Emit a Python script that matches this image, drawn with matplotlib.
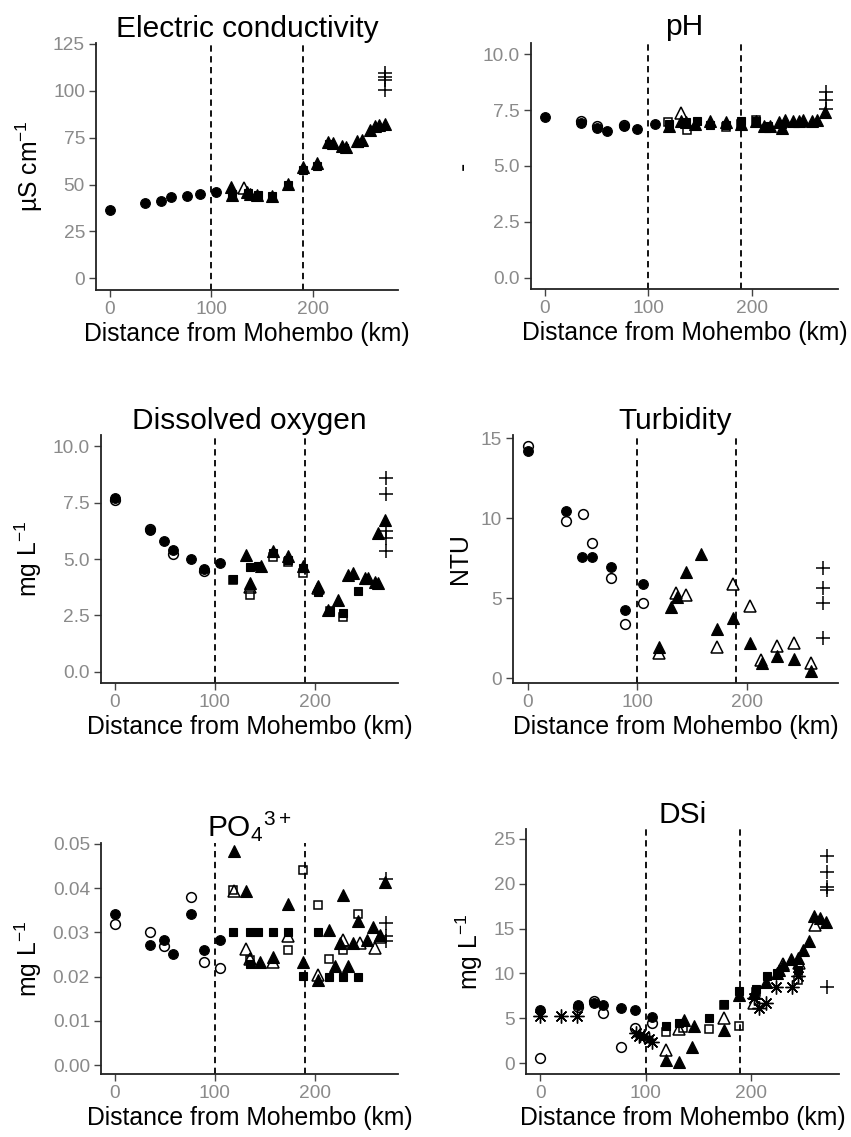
import numpy as np
import matplotlib
matplotlib.use("Agg")
import matplotlib.pyplot as plt

plt.rcParams['font.family'] = ['Liberation Sans', 'DejaVu Sans']
plt.rcParams['mathtext.fontset'] = 'custom'
plt.rcParams['mathtext.rm'] = 'Liberation Sans'
plt.rcParams['mathtext.it'] = 'Liberation Sans:italic'
plt.rcParams['mathtext.bf'] = 'Liberation Sans:bold'

# ---- Electric conductivity
ec_fc_x = [0, 35, 50, 60, 76, 89, 105]
ec_fc_y = [36.5, 40, 41, 43.3, 43.8, 44.7, 46]
ec_fs_x = [120, 136, 146, 160, 175, 190, 204, 216, 230, 245]
ec_fs_y = [45, 45.5, 44.5, 44, 50, 58, 60, 71.5, 69.5, 72]
ec_ft_x = [119, 120, 135, 138, 145, 160, 175, 190, 204, 215, 220, 228, 232, 243, 248, 256, 261, 265, 271]
ec_ft_y = [48.5, 44.5, 46, 45, 44.5, 44, 50.5, 59.5, 61.5, 72.5, 72, 70.5, 70, 73, 73.5, 79, 81, 82, 82.5]
ec_ot_x = [132]
ec_ot_y = [48]
ec_plus_x = [271, 271, 271, 271]
ec_plus_y = [100.5, 105.5, 107.5, 109.5]

# ---- pH
ph_fc_x = [0, 35, 50, 60, 76, 89, 106]
ph_fc_y = [7.2, 6.93, 6.71, 6.58, 6.8, 6.64, 6.9]
ph_oc_x = [35, 50, 76]
ph_oc_y = [7.02, 6.8, 6.85]
ph_fs_x = [120, 136, 147, 160, 175, 190, 204, 216, 229]
ph_fs_y = [6.9, 6.95, 7.0, 6.85, 6.85, 7.0, 7.0, 6.8, 6.9]
ph_os_x = [119, 137, 175, 190, 204]
ph_os_y = [6.98, 6.6, 6.75, 6.9, 7.05]
ph_ft_x = [120, 132, 136, 145, 160, 175, 190, 204, 212, 218, 226, 229, 232, 240, 246, 250, 258, 263, 271]
ph_ft_y = [6.8, 7.0, 6.95, 6.9, 7.0, 6.95, 6.9, 7.0, 6.8, 6.8, 6.95, 6.7, 7.05, 7.0, 7.0, 7.05, 7.0, 7.05, 7.4]
ph_ot_x = [132]
ph_ot_y = [7.35]
ph_plus_x = [272, 272, 272]
ph_plus_y = [8.3, 7.93, 7.57]

# ---- Dissolved oxygen
do_fc_x = [0, 35, 49, 58, 76, 89, 105]
do_fc_y = [7.7, 6.27, 5.81, 5.41, 5.01, 4.57, 4.84]
do_oc_x = [0, 35, 58, 89]
do_oc_y = [7.6, 6.33, 5.24, 4.48]
do_fs_x = [118, 135, 143, 158, 173, 188, 203, 215, 228, 243]
do_fs_y = [4.13, 4.64, 4.67, 5.27, 4.97, 4.6, 3.54, 2.68, 2.6, 3.57]
do_os_x = [118, 135, 158, 173, 188, 215, 228]
do_os_y = [4.08, 3.42, 5.1, 4.85, 4.4, 2.7, 2.42]
do_ft_x = [131, 135, 146, 158, 173, 188, 203, 213, 223, 233, 238, 250, 253, 260, 263, 263, 270]
do_ft_y = [5.16, 3.93, 4.67, 5.34, 5.12, 4.67, 3.79, 2.75, 3.17, 4.3, 4.38, 4.15, 4.15, 4.0, 3.93, 6.15, 6.75]
do_ot_x = [135, 203]
do_ot_y = [3.75, 3.7]
do_plus_x = [271, 271, 271, 271, 271]
do_plus_y = [8.6, 7.88, 6.23, 5.95, 5.34]

# ---- Turbidity
tu_fc_x = [0, 35, 50, 59, 76, 89, 105]
tu_fc_y = [14.2, 10.46, 7.6, 7.6, 6.92, 4.27, 5.9]
tu_oc_x = [0, 35, 50.6, 59, 76, 89, 105]
tu_oc_y = [14.54, 9.85, 10.27, 8.48, 6.29, 3.38, 4.73]
tu_ft_x = [120, 131, 136, 144.5, 158, 173, 188, 203, 214.5, 228, 243, 259]
tu_ft_y = [1.98, 4.48, 5.06, 6.62, 7.75, 3.08, 3.75, 2.23, 0.98, 1.4, 1.23, 0.48]
tu_ot_x = [120, 135, 144.5, 173, 188, 203, 213.5, 228, 243, 258.5]
tu_ot_y = [1.6, 5.31, 5.2, 1.92, 5.9, 4.54, 1.15, 2.02, 2.19, 0.94]
tu_plus_x = [270, 270, 270, 270]
tu_plus_y = [6.88, 5.63, 4.73, 2.54]

# ---- PO4
po_fc_x = [0, 35, 49, 58, 76, 89, 105]
po_fc_y = [0.0341, 0.0272, 0.0282, 0.0252, 0.0341, 0.0261, 0.0282]
po_oc_x = [0, 35, 49, 76, 89, 105]
po_oc_y = [0.0319, 0.030, 0.027, 0.0381, 0.0232, 0.022]
po_fs_x = [118, 135, 135, 143, 158, 173, 188, 203, 214, 228, 243]
po_fs_y = [0.030, 0.030, 0.0229, 0.030, 0.030, 0.030, 0.0202, 0.030, 0.020, 0.020, 0.020]
po_os_x = [118, 135, 173, 188, 203, 214, 228, 243]
po_os_y = [0.0395, 0.0238, 0.026, 0.044, 0.0361, 0.024, 0.026, 0.0341]
po_ft_x = [119, 131.7, 145, 158, 173, 188, 203, 214, 220, 225, 228, 233, 238, 243, 252, 258, 265, 270]
po_ft_y = [0.0483, 0.0394, 0.0234, 0.0245, 0.0364, 0.0234, 0.0193, 0.0306, 0.0223, 0.0277,
           0.0385, 0.0223, 0.0276, 0.0325, 0.0283, 0.0313, 0.0295, 0.0414]
po_ot_x = [119, 131, 135, 158, 173, 203, 228, 245, 260, 265]
po_ot_y = [0.0393, 0.0262, 0.0239, 0.0234, 0.0291, 0.0204, 0.0283, 0.0277, 0.0264, 0.0289]
po_plus_x = [271, 271, 271, 271]
po_plus_y = [0.0421, 0.0321, 0.0291, 0.028]

# ---- DSi
ds_fc_x = [0, 35.6, 50.8, 59.7, 76.8, 89.5, 106]
ds_fc_y = [5.95, 6.5, 6.7, 6.5, 6.14, 5.95, 5.2]
ds_oc_x = [0, 35.6, 50.8, 59.7, 76.8, 89.5, 106]
ds_oc_y = [0.56, 6.3, 6.9, 5.6, 1.8, 3.9, 4.5]
ds_fs_x = [119, 132, 160, 174, 189, 205, 215, 225, 245]
ds_fs_y = [4.1, 4.46, 5.0, 6.6, 8.0, 8.26, 9.67, 10.0, 10.4]
ds_os_x = [119, 135, 160, 174, 189, 205, 245]
ds_os_y = [3.53, 3.9, 3.8, 6.5, 4.1, 7.9, 9.3]
ds_ft_x = [119, 132, 136.5, 144, 146, 174, 189, 203, 214, 225, 227, 230, 238, 245, 249, 255.5, 260, 265, 271]
ds_ft_y = [0.37, 0.19, 4.84, 1.8, 4.1, 3.65, 7.6, 7.8, 9.1, 10.0, 10.4, 10.9, 11.6, 11.7, 12.65, 13.6, 16.4, 16.2, 15.7]
ds_ot_x = [119, 132, 174, 203, 230, 246, 261]
ds_ot_y = [1.5, 3.8, 5.0, 6.7, 11.1, 11.2, 15.4]
ds_ast_x = [0, 20, 35, 90.5, 93.6, 95, 98, 103, 106, 203, 208, 214, 224, 239, 245]
ds_ast_y = [5.3, 5.3, 5.3, 3.35, 3.0, 3.2, 3.0, 2.7, 2.4, 7.25, 6.1, 6.7, 8.5, 8.5, 9.7]
ds_plus_x = [272, 272, 272, 272, 272]
ds_plus_y = [23.07, 21.3, 19.6, 19.35, 8.48]

reach_breaks = [100, 190]
x_ticks = [0, 100, 200]

# marker styles by group
styles = {
    'fc': dict(marker='o', ms=7, mfc='black', mec='black', mew=0.8),
    'oc': dict(marker='o', ms=7, mfc='none', mec='black', mew=1.1),
    'fs': dict(marker='s', ms=6.3, mfc='black', mec='black', mew=0.8),
    'os': dict(marker='s', ms=6.3, mfc='none', mec='black', mew=1.1),
    'ft': dict(marker='^', ms=8, mfc='black', mec='black', mew=0.8),
    'ot': dict(marker='^', ms=8, mfc='none', mec='black', mew=1.1),
    'ast': dict(marker=(8, 2, 0), ms=10, mfc='none', mec='black', mew=1.0),
    'plus': dict(marker='+', ms=10, mfc='none', mec='black', mew=1.1),
}

W, H = 851, 1137
fig = plt.figure(figsize=(W / 100, H / 100), dpi=100)


def panel(box, title, ylabel, ylim, yticks, ylabels, series, title_pad=2):
    L, T, R, B = box
    ax = fig.add_axes([L / W, 1 - B / H, (R - L) / W, (B - T) / H])
    for b in reach_breaks:
        ax.axvline(b, color='black', lw=1.3, ls=(0, (3.5, 2.5)), zorder=1)
    for key, xs, ys in series:
        ax.plot(xs, ys, ls='none', zorder=3, **styles[key])
    ax.set_xlim(-13.5, 283.5)
    ax.set_ylim(*ylim)
    ax.set_xticks(x_ticks)
    ax.set_yticks(yticks)
    ax.set_yticklabels(ylabels)
    for s in ['top', 'right']:
        ax.spines[s].set_visible(False)
    for s in ['left', 'bottom']:
        ax.spines[s].set_linewidth(1.3)
        ax.spines[s].set_color('#222222')
    ax.tick_params(length=5, width=1.0, color='#444444', labelcolor='#8a8a8a',
                   labelsize=13.8, pad=3)
    ax.set_title(title, fontsize=21.5, pad=title_pad)
    ax.set_xlabel('Distance from Mohembo (km)', fontsize=17.8, labelpad=3)
    ax.set_ylabel(ylabel, fontsize=17.8, labelpad=6)
    return ax


panel((96, 43, 398, 290), 'Electric conductivity', r'µS cm$^{-1}$', (-6.25, 125.5),
      [0, 25, 50, 75, 100, 125], ['0', '25', '50', '75', '100', '125'],
      [('fc', ec_fc_x, ec_fc_y), ('fs', ec_fs_x, ec_fs_y), ('ft', ec_ft_x, ec_ft_y),
       ('ot', ec_ot_x, ec_ot_y), ('plus', ec_plus_x, ec_plus_y)])

panel((531, 43, 838, 289), 'pH', '-', (-0.5, 10.5),
      [0, 2.5, 5, 7.5, 10], ['0.0', '2.5', '5.0', '7.5', '10.0'],
      [('fc', ph_fc_x, ph_fc_y), ('oc', ph_oc_x, ph_oc_y), ('fs', ph_fs_x, ph_fs_y),
       ('os', ph_os_x, ph_os_y), ('ft', ph_ft_x, ph_ft_y), ('ot', ph_ot_x, ph_ot_y),
       ('plus', ph_plus_x, ph_plus_y)], title_pad=6)

panel((101, 435, 398, 683), 'Dissolved oxygen', r'mg L$^{-1}$', (-0.5, 10.5),
      [0, 2.5, 5, 7.5, 10], ['0.0', '2.5', '5.0', '7.5', '10.0'],
      [('fc', do_fc_x, do_fc_y), ('oc', do_oc_x, do_oc_y), ('fs', do_fs_x, do_fs_y),
       ('os', do_os_x, do_os_y), ('ft', do_ft_x, do_ft_y), ('ot', do_ot_x, do_ot_y),
       ('plus', do_plus_x, do_plus_y)])

panel((513, 435, 838, 683), 'Turbidity', 'NTU', (-0.3, 15.2),
      [0, 5, 10, 15], ['0', '5', '10', '15'],
      [('fc', tu_fc_x, tu_fc_y), ('oc', tu_oc_x, tu_oc_y), ('ft', tu_ft_x, tu_ft_y),
       ('ot', tu_ot_x, tu_ot_y), ('plus', tu_plus_x, tu_plus_y)])

panel((101, 843, 398, 1074), r'PO$_4{}^{3+}$', r'mg L$^{-1}$', (-0.002, 0.0502),
      [0, 0.01, 0.02, 0.03, 0.04, 0.05], ['0.00', '0.01', '0.02', '0.03', '0.04', '0.05'],
      [('fc', po_fc_x, po_fc_y), ('oc', po_oc_x, po_oc_y), ('fs', po_fs_x, po_fs_y),
       ('os', po_os_x, po_os_y), ('ft', po_ft_x, po_ft_y), ('ot', po_ot_x, po_ot_y),
       ('plus', po_plus_x, po_plus_y)], title_pad=4)

panel((526, 829, 839, 1074), 'DSi', r'mg L$^{-1}$', (-1.2, 26.1),
      [0, 5, 10, 15, 20, 25], ['0', '5', '10', '15', '20', '25'],
      [('fc', ds_fc_x, ds_fc_y), ('oc', ds_oc_x, ds_oc_y), ('fs', ds_fs_x, ds_fs_y),
       ('os', ds_os_x, ds_os_y), ('ft', ds_ft_x, ds_ft_y), ('ot', ds_ot_x, ds_ot_y),
       ('ast', ds_ast_x, ds_ast_y), ('plus', ds_plus_x, ds_plus_y)])

fig.savefig('out.png', dpi=100, facecolor='white')
